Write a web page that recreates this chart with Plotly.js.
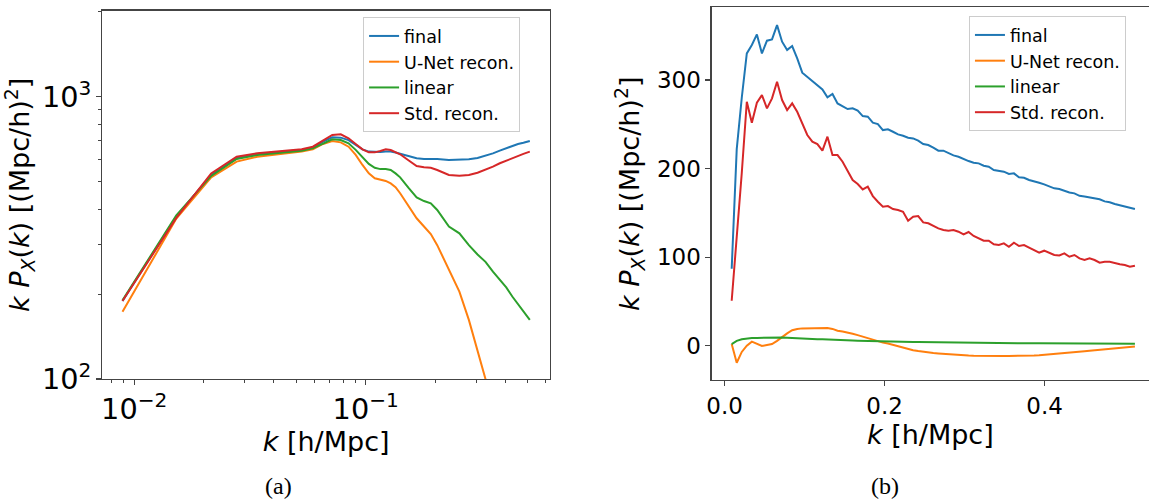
<!DOCTYPE html>
<html>
<head>
<meta charset="utf-8">
<script src="https://cdn.plot.ly/plotly-3.0.1.min.js"></script>
<style>html,body{margin:0;padding:0;background:#fff;}#chart{width:1149px;height:502px;}</style>
</head>
<body>
<div id="chart"></div>
<script>
// ---------- Panel (a): log-log ----------
const kA = [0.0089, 0.0152, 0.0215, 0.0277, 0.0340, 0.0403, 0.0466, 0.0529, 0.0591, 0.0654,
  0.0717, 0.0780, 0.0843, 0.0905, 0.0968, 0.1031, 0.1094, 0.1157, 0.1220, 0.1282,
  0.1345, 0.1408, 0.1534, 0.1659, 0.1785, 0.1910, 0.2036, 0.2287, 0.2538, 0.2789,
  0.3040, 0.3291, 0.3543, 0.3794, 0.4045, 0.4296, 0.4547, 0.4798, 0.5113];
const finalA = [189, 376, 528, 605, 627, 634, 639, 647, 660, 693,
  718, 716, 702, 674, 651, 639, 637, 637, 640, 639,
  634, 627, 613, 605, 602, 602, 602, 597, 597, 600,
  607, 617, 630, 644, 658, 668, 680, 687, 697];
const unetA = [173, 370, 518, 589, 613, 622, 630, 639, 651, 680,
  697, 689, 665, 622, 573, 535, 514, 507, 503, 493,
  478, 455, 410, 371, 347, 326, 298, 244, 204, 162,
  127, 102, 82, 66, 53, 43, 35, 29, 24];
const linearA = [190, 380, 524, 602, 622, 630, 637, 644, 656, 684,
  706, 702, 684, 648, 613, 578, 560, 554, 554, 550,
  535, 518, 474, 440, 427, 419, 397, 347, 328, 298,
  276, 260, 240, 224, 211, 196, 184, 173, 162];
const stdA = [189, 372, 535, 613, 630, 639, 644, 651, 665, 702,
  732, 736, 712, 680, 651, 635, 635, 642, 651, 647,
  637, 625, 594, 568, 562, 560, 550, 528, 525, 528,
  538, 550, 565, 581, 594, 605, 617, 627, 639];

// ---------- Panel (b): linear ----------
const kB = [0.0089, 0.0152, 0.0215, 0.0278, 0.0341, 0.0404, 0.0467, 0.0530, 0.0593, 0.0656,
  0.0719, 0.0782, 0.0845, 0.0908, 0.0971, 0.1034, 0.1097, 0.1160, 0.1223, 0.1286,
  0.1349, 0.1412, 0.1475, 0.1538, 0.1601, 0.1664, 0.1727, 0.1790, 0.1853, 0.1916,
  0.1979, 0.2042, 0.2105, 0.2168, 0.2231, 0.2294, 0.2357, 0.2420, 0.2483, 0.2546,
  0.2609, 0.2672, 0.2735, 0.2798, 0.2861, 0.2924, 0.2987, 0.3050, 0.3113, 0.3176,
  0.3239, 0.3302, 0.3365, 0.3428, 0.3491, 0.3554, 0.3617, 0.3680, 0.3743, 0.3806,
  0.3869, 0.3932, 0.3995, 0.4058, 0.4121, 0.4184, 0.4247, 0.4310, 0.4373, 0.4436,
  0.4499, 0.4562, 0.4625, 0.4688, 0.4751, 0.4814, 0.4877, 0.4940, 0.5003, 0.5066,
  0.5129];
const finalB = [87, 222, 280, 330, 339.5, 351.5, 330, 344.4, 345.9, 362,
  343.3, 334, 338.4, 324.5, 308.3, 303.7, 298.9, 294.3, 289.4, 280.4,
  284.2, 273.6, 270.6, 267.2, 268.0, 265.4, 259.3, 258.6, 251.8, 250.3,
  243.5, 244.3, 241.6, 238.6, 237.1, 234.9, 234.1, 231.5, 227.7, 226.6,
  223.6, 220.2, 220.2, 217.2, 214.9, 213.4, 210.8, 208.5, 206.7, 205.9,
  203.3, 202.1, 198.4, 197.6, 196.5, 193.9, 194.6, 190.1, 189.7, 187.1,
  186.0, 184.1, 182.2, 180.3, 177.7, 176.9, 174.7, 173.1, 172.0, 169.3,
  168.6, 167.5, 166.0, 165.3, 163.0, 162.0, 160.0, 158.5, 157.0, 156.0,
  154.3];
const unetB = [1.9, -19.2, -7, 0, 4.6, 2, -0.3, 0.8, 1.9, 5.5,
  10, 14, 17.5, 19, 19.6, 19.8, 20, 20.2, 20.4, 20,
  19, 17, 16, 15, 13.5, 12, 10.2, 8.9, 7, 5,
  3.5, 2.5, 1, -1, -2.5, -3.8, -5, -6, -7, -7.8,
  -8.3, -8.8, -9.3, -9.8, -10.2, -10.6, -10.9, -11.1, -11.3, -11.5,
  -11.6, -11.7, -11.7, -11.7, -11.7, -11.6, -11.6, -11.5, -11.3, -11.1,
  -10.9, -10.6, -10.2, -9.8, -9.4, -8.9, -8.3, -7.8, -7.3, -6.7,
  -6.2, -5.6, -5.0, -4.4, -3.8, -3.3, -2.8, -2.3, -1.8, -1.4,
  -1.0];
const linearB = [1.9, 5.5, 7.3, 8.2, 8.6, 8.8, 9.0, 9.2, 9.4, 9.4,
  9.3, 9.0, 8.6, 8.1, 7.7, 7.4, 7.3, 7.3, 7.3, 7.2,
  7.0, 6.7, 6.4, 6.1, 5.9, 5.7, 5.5, 5.3, 5.2, 5.0,
  4.9, 4.8, 4.7, 4.6, 4.5, 4.4, 4.3, 4.2, 4.1, 4.0,
  3.9, 3.8, 3.7, 3.6, 3.5, 3.5, 3.4, 3.3, 3.3, 3.2,
  3.2, 3.1, 3.1, 3.0, 3.0, 2.9, 2.9, 2.8, 2.8, 2.8,
  2.7, 2.7, 2.7, 2.6, 2.6, 2.6, 2.5, 2.5, 2.5, 2.5,
  2.4, 2.4, 2.4, 2.4, 2.4, 2.3, 2.3, 2.3, 2.3, 2.3,
  2.3];
const stdB = [50.8, 120, 195, 275.5, 251.8, 274.4, 283.0, 268.0, 279.3, 298.1,
  277.4, 266.1, 273.6, 264.2, 251.1, 237.9, 230.4, 227.7, 220.2, 236.0,
  215.3, 215.3, 207.8, 197.6, 187.1, 182.6, 176.5, 179.6, 169.0, 162.6,
  157.0, 157.7, 154.3, 153.2, 151.3, 141.2, 145.7, 146.4, 139.3, 138.2,
  135.1, 132.5, 130.6, 129.9, 130.6, 128.7, 125.7, 128.4, 123.9, 121.2,
  118.6, 118.6, 114.5, 113.7, 115.6, 111.8, 116.3, 112.6, 113.7, 110.7,
  108.0, 105.0, 107.3, 105.0, 102.4, 102.0, 104.3, 100.5, 102.4, 98.6,
  96.8, 98.6, 96.8, 93.7, 94.9, 94.9, 93.0, 91.9, 91.1, 89.2,
  90.4];

const seriesNames = ['final', 'U-Net recon.', 'linear', 'Std. recon.'];
const colors = ['#1f77b4', '#ff7f0e', '#2ca02c', '#d62728'];

const FONT = 'DejaVu Sans, sans-serif';
const yTitle = '<i>k</i> <i>P</i><sub><i>X</i></sub>(<i>k</i>) [(Mpc/h)<sup>2</sup>]';
const xTitle = '<i>k</i> [h/Mpc]';

const dataA = [finalA, unetA, linearA, stdA];
const dataB = [finalB, unetB, linearB, stdB];
const traces = [];
dataA.forEach((ys, i) => traces.push({
  x: kA, y: ys, type: 'scatter', mode: 'lines', name: seriesNames[i],
  line: {color: colors[i], width: 2}, xaxis: 'x', yaxis: 'y',
  legend: 'legend'
}));
dataB.forEach((ys, i) => traces.push({
  x: kB, y: ys, type: 'scatter', mode: 'lines', name: seriesNames[i],
  line: {color: colors[i], width: 2}, xaxis: 'x2', yaxis: 'y2',
  legend: 'legend2'
}));

const axisCommon = {
  showgrid: false, zeroline: false, showline: true, linecolor: '#444', linewidth: 1.3,
  ticks: 'outside', ticklen: 5, tickwidth: 1.2, tickcolor: '#444',
  tickfont: {family: FONT, size: 23, color: '#000'}
};
const legendCommon = {
  font: {family: FONT, size: 17.5, color: '#000'},
  bgcolor: 'rgba(255,255,255,0.9)', bordercolor: '#cccccc', borderwidth: 1,
  xanchor: 'left', yanchor: 'top', traceorder: 'normal',
  itemwidth: 30
};

const layout = {
  width: 1149, height: 502,
  margin: {l: 0, r: 0, t: 0, b: 0},
  paper_bgcolor: '#fff', plot_bgcolor: '#fff',
  font: {family: FONT, color: '#000'},
  showlegend: true,
  xaxis: Object.assign({}, axisCommon, {
    domain: [0.0890, 0.4787], type: 'log', range: [-2.138, -0.204],
    dtick: 1, exponentformat: 'power', mirror: true,
    minor: {ticks: 'outside', ticklen: 3, tickwidth: 1, tickcolor: '#444', dtick: 'D1', showgrid: false},
    title: {text: xTitle, font: {family: FONT, size: 27}, standoff: 6}
  }),
  yaxis: Object.assign({}, axisCommon, {
    domain: [0.245, 0.9787], type: 'log', range: [2, 3.3046],
    dtick: 1, exponentformat: 'power', mirror: true,
    minor: {ticks: 'outside', ticklen: 3, tickwidth: 1, tickcolor: '#444', dtick: 'D1', showgrid: false},
    title: {text: yTitle, font: {family: FONT, size: 27}, standoff: 9}
  }),
  xaxis2: Object.assign({}, axisCommon, {
    domain: [0.6194, 1], range: [-0.0161, 0.5305], anchor: 'y2',
    tickvals: [0, 0.2, 0.4], tickformat: '.1f', mirror: true,
    title: {text: xTitle, font: {family: FONT, size: 27}, standoff: 6}
  }),
  yaxis2: Object.assign({}, axisCommon, {
    domain: [0.2430, 0.9851], range: [-38.7, 381.9], anchor: 'x2',
    tickvals: [0, 100, 200, 300], mirror: false,
    title: {text: yTitle, font: {family: FONT, size: 27}, standoff: 9}
  }),
  legend: Object.assign({}, legendCommon, {x: 0.316, y: 0.966}),
  legend2: Object.assign({}, legendCommon, {x: 0.8433, y: 0.968}),
  annotations: [
    {text: '(a)', xref: 'paper', yref: 'paper', x: 0.242, y: 0.032, xanchor: 'center', yanchor: 'middle',
     showarrow: false, font: {family: 'Liberation Serif, serif', size: 24, color: '#000'}},
    {text: '(b)', xref: 'paper', yref: 'paper', x: 0.7702, y: 0.032, xanchor: 'center', yanchor: 'middle',
     showarrow: false, font: {family: 'Liberation Serif, serif', size: 24, color: '#000'}}
  ]
};

Plotly.newPlot('chart', traces, layout, {staticPlot: true, displayModeBar: false});
</script>
</body>
</html>
